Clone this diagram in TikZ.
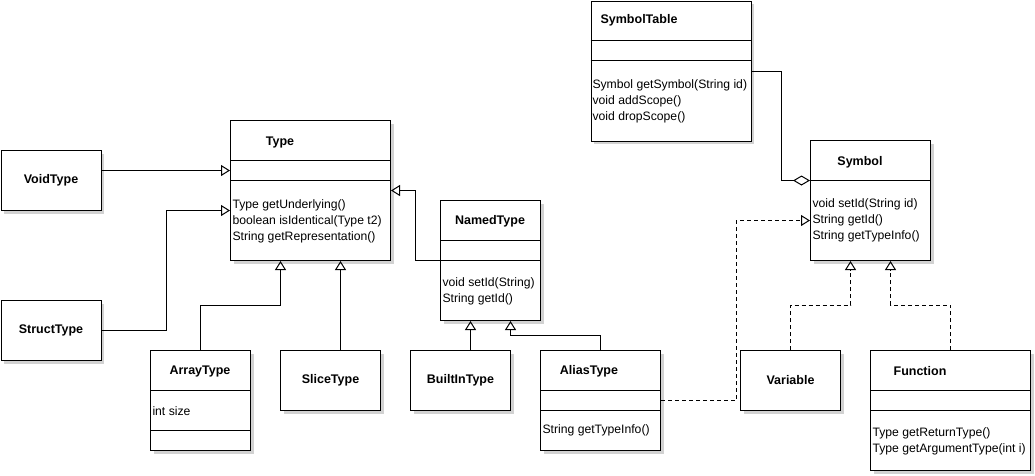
\documentclass[tikz,border=0pt]{standalone}
\usepackage{fontspec}
\setmainfont{Liberation Sans}
\usetikzlibrary{arrows.meta,shadows}

\tikzset{
  cls/.style={draw, fill=white, anchor=north west, inner sep=0pt,
    drop shadow={shadow xshift=3pt, shadow yshift=-3pt, fill=gray!35, opacity=1}},
  ttl/.style={font=\fontsize{12.5}{16}\selectfont\bfseries, inner sep=0pt},
  ops/.style={anchor=west, align=left, inner sep=1pt},
  inh/.style={-{Triangle[open,length=9pt,width=11pt]}},
  real/.style={inh, dash pattern=on 4pt off 3pt},
  aggr/.style={-{Diamond[open,length=17pt,width=10pt]}}
}

\begin{document}
\begin{tikzpicture}[x=1pt, y=-1pt, line width=1pt, font=\fontsize{12.2}{16}\selectfont]
\useasboundingbox (0,0) rectangle (1035,475);

% classes with compartments
\node[cls, minimum width=160pt, minimum height=140pt] (symtab) at (590.5,0.5) {};
\draw ([yshift=-40pt]symtab.north west) -- ([yshift=-40pt]symtab.north east);
\draw ([yshift=-60pt]symtab.north west) -- ([yshift=-60pt]symtab.north east);
\node[ttl] (symtab-name) at (639,20) {SymbolTable};
\node[ops] (symtab-ops) at (591,101) {Symbol getSymbol(String id)\\void addScope()\\void dropScope()};

\node[cls, minimum width=120pt, minimum height=120pt] (symbol) at (810,140) {};
\draw ([yshift=-40pt]symbol.north west) -- ([yshift=-40pt]symbol.north east);
\node[ttl] (symbol-name) at (860,162) {Symbol};
\node[ops] (symbol-ops) at (811,220) {void setId(String id)\\String getId()\\String getTypeInfo()};

\node[cls, minimum width=160pt, minimum height=140pt] (type) at (230,120) {};
\draw ([yshift=-40pt]type.north west) -- ([yshift=-40pt]type.north east);
\draw ([yshift=-60pt]type.north west) -- ([yshift=-60pt]type.north east);
\node[ttl] (type-name) at (280,142) {Type};
\node[ops] (type-ops) at (231,221) {Type getUnderlying()\\boolean isIdentical(Type t2)\\String getRepresentation()};

\node[cls, minimum width=100pt, minimum height=120pt] (named) at (440,200) {};
\draw ([yshift=-40pt]named.north west) -- ([yshift=-40pt]named.north east);
\draw ([yshift=-60pt]named.north west) -- ([yshift=-60pt]named.north east);
\node[ttl] (named-name) at (490,221) {NamedType};
\node[ops] (named-ops) at (441,291) {void setId(String)\\String getId()};

\node[cls, minimum width=100pt, minimum height=100pt] (array) at (150,350) {};
\draw ([yshift=-40pt]array.north west) -- ([yshift=-40pt]array.north east);
\draw ([yshift=-80pt]array.north west) -- ([yshift=-80pt]array.north east);
\node[ttl] (array-name) at (200,371) {ArrayType};
\node[ops] (array-ops) at (151,411) {int size};

\node[cls, minimum width=120pt, minimum height=100pt] (alias) at (540,350) {};
\draw ([yshift=-40pt]alias.north west) -- ([yshift=-40pt]alias.north east);
\draw ([yshift=-60pt]alias.north west) -- ([yshift=-60pt]alias.north east);
\node[ttl] (alias-name) at (589,371) {AliasType};
\node[ops] (alias-ops) at (541,430) {String getTypeInfo()};

\node[cls, minimum width=160pt, minimum height=120pt] (function) at (870,350) {};
\draw ([yshift=-40pt]function.north west) -- ([yshift=-40pt]function.north east);
\draw ([yshift=-60pt]function.north west) -- ([yshift=-60pt]function.north east);
\node[ttl] (function-name) at (920,371) {Function};
\node[ops] (function-ops) at (871,441) {Type getReturnType()\\Type getArgumentType(int i)};

% plain classes
\node[cls, ttl, minimum width=100pt, minimum height=60pt] (void) at (0.5,150) {VoidType};
\node[cls, ttl, minimum width=100pt, minimum height=60pt] (struct) at (0.5,300) {StructType};
\node[cls, ttl, minimum width=100pt, minimum height=60pt] (slice) at (280,350) {SliceType};
\node[cls, ttl, minimum width=100pt, minimum height=60pt] (builtin) at (410,350) {BuiltInType};
\node[cls, ttl, minimum width=100pt, minimum height=60pt] (variable) at (740,350) {Variable};

% inheritance
\draw[inh] ([yshift=10pt]void.east) -- ([yshift=10pt]void.east -| type.west);
\draw[inh] (struct.east) -- ++(65,0) |- ([yshift=-20pt]type.west);
\draw[inh] (array.north) -- ++(0,-45) -| ([xshift=-30pt]type.south);
\draw[inh] ([xshift=10pt]slice.north) -- ([xshift=10pt]slice.north |- type.south);
\draw[inh] (named.west) -- ++(-25,0) |- (type.east);
\draw[inh] ([xshift=10pt]builtin.north) -- ([xshift=10pt]builtin.north |- named.south);
\draw[inh] (alias.north) -- ++(0,-15) -| ([xshift=20pt]named.south);

% realization and aggregation
\draw[real] (alias.east) -- ++(75,0) |- ([yshift=-20pt]symbol.west);
\draw[real] (variable.north) -- ++(0,-45) -| ([xshift=-20pt]symbol.south);
\draw[real] (function.north) -- ++(0,-45) -| ([xshift=20pt]symbol.south);
\draw[aggr] (symtab.east) -- ++(30,0) |- ([yshift=20pt]symbol.west);
\end{tikzpicture}
\end{document}
